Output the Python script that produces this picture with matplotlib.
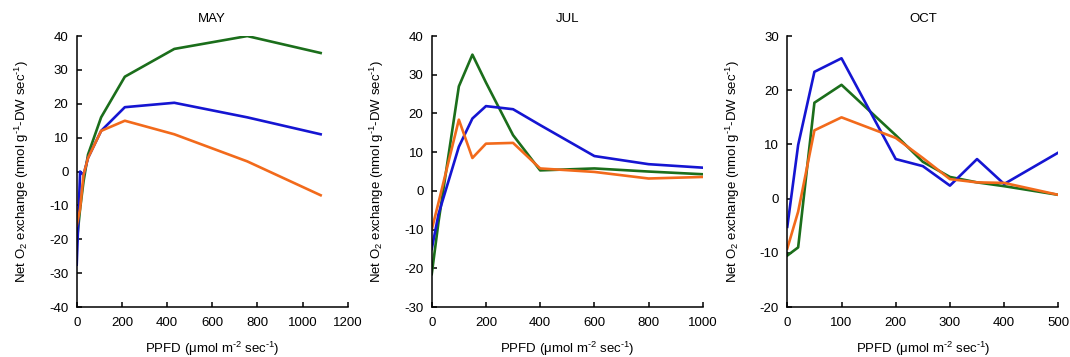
import numpy as np
import matplotlib.pyplot as plt

plt.rcParams['font.family'] = ['Liberation Sans', 'DejaVu Sans']
plt.rcParams['mathtext.fontset'] = 'custom'
plt.rcParams['mathtext.rm'] = 'Liberation Sans'
plt.rcParams['mathtext.default'] = 'regular'
plt.rcParams['axes.unicode_minus'] = False

# PPFD values and net O2 exchange
x_may = [0, 15, 30, 50, 108, 213, 432, 755, 1080]
green_may = [-21, -11, -3, 5, 16, 28, 36.2, 40, 35]
blue_may = [-27.5, 0, -1, 4, 12, 19, 20.3, 16, 11]
orange_may = [-16, -11, -1, 4, 12, 15, 11, 3, -7]

x_jul = [0, 25, 100, 150, 200, 300, 400, 600, 800, 1000]
green_jul = [-21.5, -8, 27, 35.2, 28, 14.4, 5.3, 5.8, 5.0, 4.3]
blue_jul = [-15, -6, 11.4, 18.7, 21.9, 21.1, 17, 9, 6.9, 6]
orange_jul = [-10, -3, 18.4, 8.5, 12.2, 12.4, 5.8, 4.9, 3.2, 3.6]

x_oct = [0, 20, 50, 100, 200, 250, 300, 350, 400, 500]
green_oct = [-10.5, -9, 17.7, 21, 11.7, 6.8, 4, 3, 2.3, 0.7]
blue_oct = [-5.2, 9.9, 23.4, 25.9, 7.3, 6.0, 2.4, 7.3, 2.7, 8.5]
orange_oct = [-9.2, -2.4, 12.6, 15, 11.2, 7.5, 3.6, 3, 2.9, 0.7]

titles = ['MAY', 'JUL', 'OCT']
xlims = [(0, 1200), (0, 1000), (0, 500)]
xsteps = [200, 200, 100]
ylims = [(-40, 40), (-30, 40), (-20, 30)]

c_green = '#1b6e1b'
c_blue = '#1515d2'
c_orange = '#f26a1b'

fig = plt.figure(figsize=(10.7, 3.57), dpi=100)
lefts = [0.0717, 0.4035, 0.7358]
data = [(x_may, green_may, blue_may, orange_may),
        (x_jul, green_jul, blue_jul, orange_jul),
        (x_oct, green_oct, blue_oct, orange_oct)]

for i in range(3):
    ax = fig.add_axes([lefts[i], 0.140, 0.2533, 0.759])
    xx, g, b, o = data[i]
    ax.plot(xx, g, color=c_green, lw=1.9)
    ax.plot(xx, b, color=c_blue, lw=1.9)
    ax.plot(xx, o, color=c_orange, lw=1.9)
    ax.set_xlim(*xlims[i])
    ax.set_ylim(*ylims[i])
    ax.set_xticks(np.arange(xlims[i][0], xlims[i][1] + 1, xsteps[i]))
    ax.set_yticks(np.arange(ylims[i][0], ylims[i][1] + 1, 10))
    ax.spines['top'].set_visible(False)
    ax.spines['right'].set_visible(False)
    ax.spines['left'].set_linewidth(1.1)
    ax.spines['bottom'].set_linewidth(1.1)
    ax.tick_params(direction='in', length=3.5, width=1.1, labelsize=9.5)
    ax.tick_params(axis='x', pad=7)
    ax.tick_params(axis='y', pad=6)
    ax.set_title(titles[i], fontsize=9.5, pad=10)
    ax.set_xlabel(r'PPFD (μmol m$^{\text{-2}}$ sec$^{\text{-1}}$)', fontsize=9.5, labelpad=8)
    ax.set_ylabel(r'Net O$_2$ exchange (nmol g$^{\text{-1}}$-DW sec$^{\text{-1}}$)', fontsize=9.5, labelpad=13)

fig.savefig('out.png', dpi=100)
